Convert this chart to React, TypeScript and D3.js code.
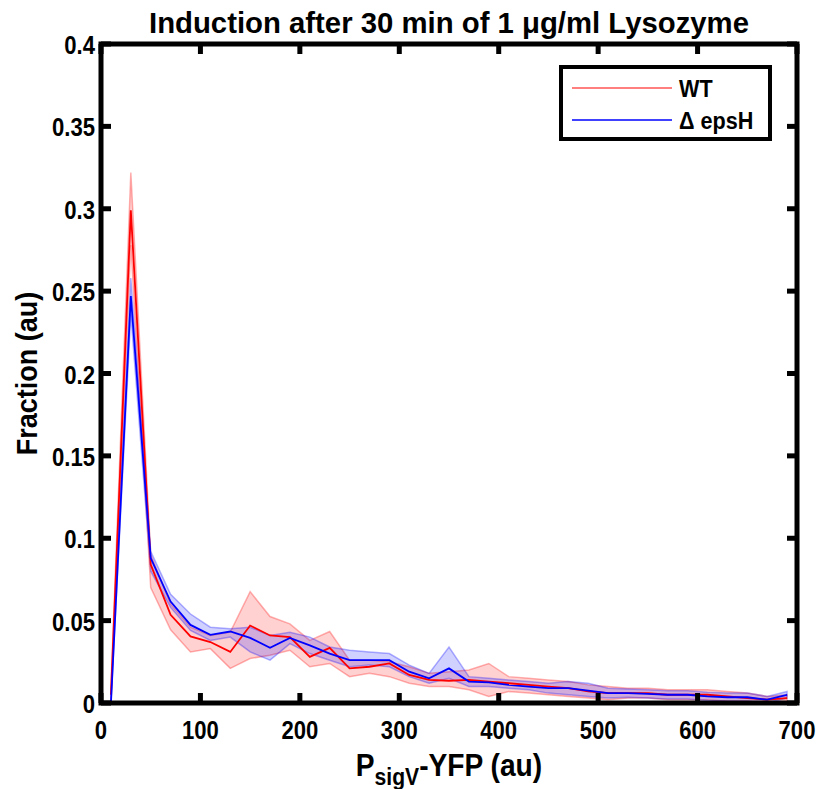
import React from "react";
import * as d3 from "d3";

const binCenters = [10,30,50,70,90,110,130,150,170,190,210,230,250,270,290,310,330,350,370,390,410,430,450,470,490,510,530,550,570,590,610,630,650,670,690];

const wtMean = [0.005,0.299,0.084,0.0535,0.0404,0.037,0.031,0.047,0.041,0.040,0.028,0.0335,0.021,0.022,0.024,0.017,0.014,0.0135,0.014,0.013,0.012,0.011,0.010,0.009,0.007,0.006,0.006,0.006,0.005,0.005,0.005,0.004,0.003,0.002,0.003];
const wtLow = [0.0,0.278,0.070,0.0444,0.031,0.033,0.021,0.027,0.029,0.032,0.022,0.024,0.016,0.018,0.016,0.012,0.010,0.010,0.008,0.004,0.007,0.006,0.005,0.004,0.003,0.002,0.003,0.003,0.002,0.002,0.002,0.001,0.001,0.0,0.001];
const wtHigh = [0.01,0.322,0.090,0.060,0.046,0.041,0.043,0.0676,0.0525,0.048,0.038,0.0434,0.026,0.026,0.025,0.022,0.018,0.019,0.020,0.024,0.016,0.015,0.014,0.013,0.011,0.010,0.009,0.009,0.008,0.008,0.008,0.007,0.006,0.004,0.005];

const epsMean = [0.0,0.247,0.088,0.0616,0.0474,0.0414,0.0434,0.0395,0.0335,0.0395,0.035,0.030,0.026,0.026,0.026,0.019,0.015,0.021,0.013,0.0125,0.011,0.010,0.009,0.009,0.0075,0.006,0.006,0.0055,0.005,0.005,0.004,0.0035,0.0035,0.002,0.005];
const epsLow = [0.0,0.236,0.080,0.058,0.044,0.038,0.040,0.031,0.026,0.036,0.030,0.026,0.022,0.023,0.022,0.016,0.012,0.015,0.010,0.010,0.009,0.008,0.006,0.005,0.004,0.003,0.0035,0.003,0.0025,0.0025,0.0015,0.001,0.001,0.0,0.003];
const epsHigh = [0.003,0.258,0.092,0.066,0.054,0.046,0.045,0.046,0.041,0.043,0.040,0.034,0.032,0.031,0.030,0.023,0.018,0.034,0.016,0.015,0.014,0.013,0.012,0.013,0.012,0.009,0.0085,0.008,0.0075,0.0075,0.0065,0.006,0.006,0.004,0.007];

const xTicks = [0,100,200,300,400,500,600,700];
const yTicks = [0,0.05,0.1,0.15,0.2,0.25,0.3,0.35,0.4];
const yTickLabels = ["0","0.05","0.1","0.15","0.2","0.25","0.3","0.35","0.4"];

const titleText = "Induction after 30 min of 1 \u03bcg/ml Lysozyme";
const legendLabels = ["WT", "\u0394 epsH"];

const font = "'Liberation Sans', Arial, sans-serif";

function CText(props: { x: number; y: number; size: number; sx?: number; anchor?: string; rotate?: number; children: React.ReactNode }) {
  const { x, y, size, sx = 0.85, anchor = "start", rotate = 0, children } = props;
  return (
    <text
      transform={`translate(${x},${y}) rotate(${rotate}) scale(${sx},1)`}
      textAnchor={anchor as any}
      fontFamily={font}
      fontWeight="bold"
      fontSize={size}
    >
      {children}
    </text>
  );
}

export default function App() {
  const W = 821, H = 789;
  const left = 101, right = 797, top = 44, bottom = 703;
  const x = d3.scaleLinear().domain([0, 700]).range([left, right]);
  const y = d3.scaleLinear().domain([0, 0.4]).range([bottom, top]);

  const line = (vals: number[]) =>
    d3.line<number>().x((_, i) => x(binCenters[i])).y((v) => y(v))(vals) || "";
  const area = (lo: number[], hi: number[]) =>
    d3.area<number>()
      .x((_, i) => x(binCenters[i]))
      .y0((_, i) => y(lo[i]))
      .y1((_, i) => y(hi[i]))(lo) || "";

  const tickLen = 10;

  return (
    <svg width={W} height={H} style={{ position: "absolute", left: 0, top: 0, background: "#fff" }}>
      <rect x={0} y={0} width={W} height={H} fill="#fff" />
      {/* bands */}
      <path d={area(wtLow, wtHigh)} fill="rgba(255,0,0,0.18)" stroke="rgba(255,0,0,0.3)" strokeWidth={1.5} />
      <path d={area(epsLow, epsHigh)} fill="rgba(0,0,255,0.18)" stroke="rgba(0,0,255,0.3)" strokeWidth={1.5} />
      {/* lines */}
      <path d={line(wtMean)} fill="none" stroke="#ff0000" strokeWidth={1.8} />
      <path d={line(epsMean)} fill="none" stroke="#0000ff" strokeWidth={1.8} />

      {/* box */}
      <rect x={left} y={top} width={right - left} height={bottom - top} fill="none" stroke="#000" strokeWidth={5} />
      {xTicks.map((t) => (
        <g key={"xt" + t}>
          <line x1={x(t)} x2={x(t)} y1={bottom} y2={bottom - tickLen} stroke="#000" strokeWidth={5} />
          <line x1={x(t)} x2={x(t)} y1={top} y2={top + tickLen} stroke="#000" strokeWidth={5} />
          <CText x={x(t)} y={bottom + 36} size={26} anchor="middle">{t}</CText>
        </g>
      ))}
      {yTicks.map((t, i) => (
        <g key={"yt" + i}>
          <line x1={left} x2={left + tickLen} y1={y(t)} y2={y(t)} stroke="#000" strokeWidth={5} />
          <line x1={right} x2={right - tickLen} y1={y(t)} y2={y(t)} stroke="#000" strokeWidth={5} />
          <CText x={left - 6} y={y(t) + 10} size={26} anchor="end">{yTickLabels[i]}</CText>
        </g>
      ))}

      {/* title */}
      <text x={449} y={33} textAnchor="middle" fontFamily={font} fontWeight="bold" fontSize={29} textLength={600} lengthAdjust="spacingAndGlyphs">{titleText}</text>

      {/* axis labels */}
      <CText x={449} y={776} size={32} sx={0.88} anchor="middle">
        P<tspan fontSize={24} dy={9}>sigV</tspan><tspan dy={-9}>-YFP (au)</tspan>
      </CText>
      <CText x={37} y={(top + bottom) / 2} size={30} sx={0.9} anchor="middle" rotate={-90}>Fraction (au)</CText>

      {/* legend */}
      <rect x={561} y={67} width={209} height={72} fill="#fff" stroke="#000" strokeWidth={4} />
      <line x1={572} x2={672} y1={88} y2={88} stroke="rgba(255,0,0,0.5)" strokeWidth={2} />
      <line x1={572} x2={672} y1={120} y2={120} stroke="rgba(0,0,255,0.75)" strokeWidth={2} />
      <CText x={679} y={97} size={24} sx={0.9}>{legendLabels[0]}</CText>
      <CText x={679} y={129} size={24} sx={0.9}>{legendLabels[1]}</CText>
    </svg>
  );
}
